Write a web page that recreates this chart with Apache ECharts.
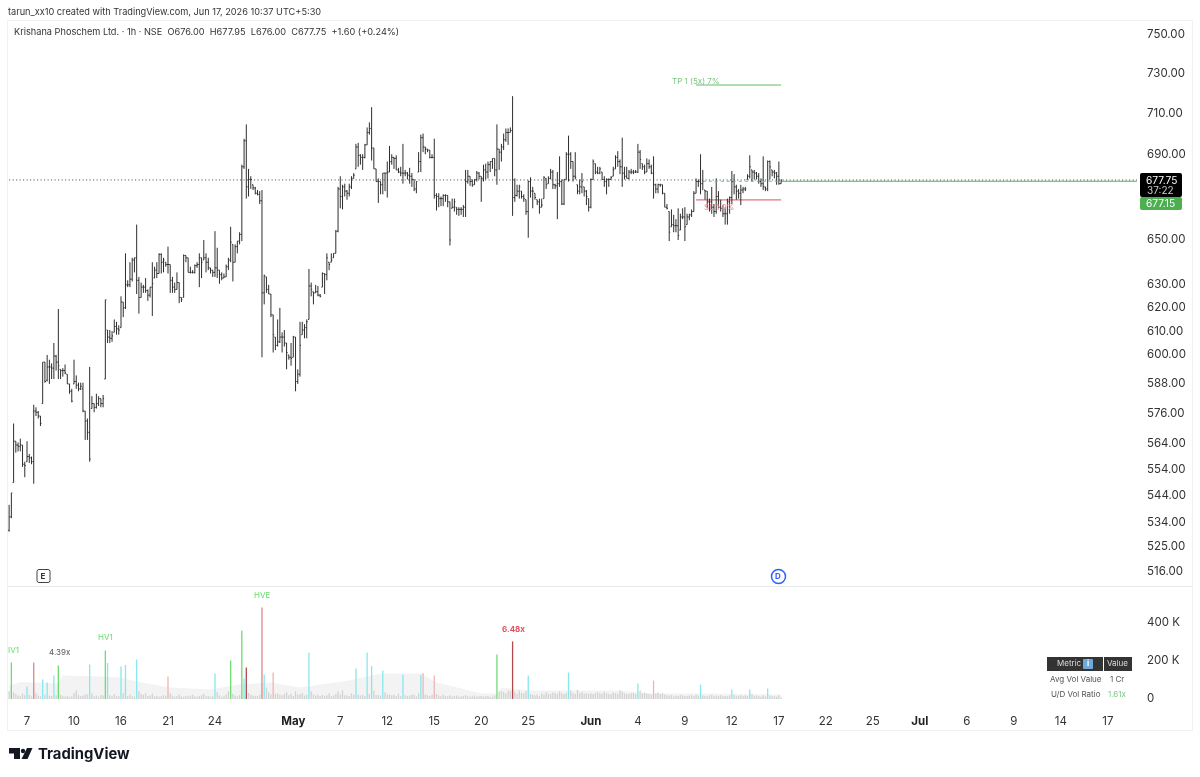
<!DOCTYPE html>
<html><head><meta charset="utf-8">
<style>html,body{margin:0;padding:0;background:#fff}#c{width:1200px;height:777px}</style>
<script src="https://cdn.jsdelivr.net/npm/echarts@6/dist/echarts.min.js"></script>
</head><body><div id="c"></div>
<script>
const opens=[531,536,549,565,563.5,563,563.5,556,557,559,
558.5,557,577,576.5,575,580,597,589.5,595,595,
594.5,599.5,597,594,593.5,593.5,592,588,585,588,
589,587.5,586,586,577,573,568.5,578,580,578.5,
580,582,580,590,610.5,607.5,607,609.5,612,611,
611.5,622.5,620,630,630,632.5,641,642,632,624.5,
629,629,627.5,625.5,629,633,636.5,635,643.5,640,
640,639,639,632,629,628,631,624.5,624.5,643,
642,635.5,635.5,635.5,638.5,639,642,641,642,640,
637.5,636.5,635.5,637.5,636.5,634.5,633,633.5,638,641,
648,640,647,649.5,652.5,684,696.5,674.5,678,675.5,
674,671.5,671,668,626.5,633.5,628,626,617,607.5,
604,605.5,607.5,607.5,605,600,599,599,607.5,589,
592,608.5,610.5,611.5,615,629.5,627,626.5,627,625.5,
629,635,634.5,640,640,642,644,654,673.5,670,
674.5,672.5,671.5,674.5,678.5,683,693.5,689.5,688.5,688.5,
694.5,700.5,702.5,693,683,677,677,675.5,681,681,
681.5,686.5,688.5,688,682.5,681.5,681,681,681,680,
679.5,678,673.5,681.5,686.5,698,693.5,692.5,692,688.5,
688.5,670.5,670,669,669,670.5,670.5,667.5,664.5,665,
665,664,664,664,665,677,679.5,677,675.5,678,
681,679.5,678.5,682.5,681.5,685,686.5,688,682.5,692.5,
691,693.5,697,700.5,700.5,701.5,669.5,670.5,672.5,672.5,
670,668.5,663,677,672.5,671.5,668.5,667.5,665,669,
678.5,676,678.5,681.5,675.5,675,676,677,666.5,678,
690,690,686.5,679.5,675.5,672.5,674.5,674.5,672.5,669,
665,678,685.5,681.5,681,681.5,678,677,678,678,
679.5,683,688.5,686.5,684,681,679.5,678.5,681.5,681.5,
681.5,681.5,691,685.5,684,681.5,685.5,684,681,675.5,
673.5,675.5,675.5,671.5,665,663,656,657,656.5,656.5,
654.5,660.5,660.5,657,660.5,661.5,663,671.5,677,677,
676,673,672.5,667.5,667.5,665,663,670,665,664.5,
662,662,667.5,669.5,677,674.5,672.5,671.5,673,673.5,
678,679.5,682.5,681.5,681,679.5,677,676,674.5,673.5,
686.5,682.5,681.5,681,679.5,676];
const highs=[540.5,545,572,565,564.5,566,563.5,557,565,560,
559,579.5,578.5,577,575,597,597,600,598,596.5,
605,600,619.5,594,594.5,596,592,588,586,598,
591.5,588.5,588.5,588.5,577,574,595,583,580,584,
583,582,583.5,623.5,610.5,610.5,610,615,614,612.5,
625,622.5,644,632,640,642,642,657,633.5,631,
630,633,628,629,640,638,640,644,644,642,
640,647,639,633.5,631,635.5,631,624.5,643.5,643,
642,638,636.5,639,640,644,642,650,644,642,
637.5,636.5,654,646.5,636.5,635.5,635,639,642,656,
648,648,649.5,653.5,685,697.5,704.5,683,679.5,675.5,
674.5,673,672.5,673,634.5,633.5,630,626,617,607.5,
615,620,609.5,610.5,605,600,605,608,607.5,594,
614,614,613,615,637,631,627,630,629.5,626,
635.5,635,644,640,644,644,654.5,674.5,679.5,675.5,
676,673,676,679.5,681,695,695.5,690,690,695,
703,705.5,713,693,683,678.5,677,681,681,686.5,
694,690,688.5,689.5,683.5,684,695,682.5,681.5,683.5,
681,678,677,691,699.5,700,693.5,692.5,692,690,
697.5,671.5,671.5,670,671,671,670.5,667.5,669,669,
665,665,665,666,682.5,682.5,679.5,678,678,682,
681.5,679.5,685,685.5,686.5,686.5,688,688,704.5,692.5,
695,700,702.5,702.5,703,718.5,678.5,675.5,675.5,672.5,
671,668.5,677.5,679,674.5,671.5,668.5,669,669,679.5,
678.5,679.5,683,682.5,676,681.5,689,678,678,691,
699,691,686.5,691,675.5,678,681,674.5,673,669,
678.5,687.5,685.5,684,684,681.5,679.5,678.5,678.5,679.5,
684,689.5,691.5,687.5,698,684,684,682.5,683,682.5,
682.5,695,692,685.5,685,688,687.5,685,689,676,
676,676,675.5,671.5,666.5,663,664,661.5,659.5,664.5,
662,664.5,665,662,662,664,672.5,678.5,678,690,
682.5,673,672.5,669,674.5,666.5,678.5,672.5,668.5,666,
665,669,670,682,680.5,675.5,673.5,675.5,674.5,674.5,
680.5,689.5,682.5,682.5,681.5,681,678.5,689,674.5,687,
687,682.5,682.5,681.5,686.5,677.95];
const lows=[530.5,535.5,549,560.5,561,561,555,551,557,556.5,
556,548.5,575,574,571,580,588.5,589,588,590,
590,593.5,590,590,591,592,588,584,580.5,588,
586,585,585.5,576.5,565.5,565.5,557,578,576.5,578,
579,578.5,578.5,590,605,605,605.5,609.5,608.5,608.5,
611.5,616,619.5,629,629,631.5,635.5,626,617.5,624.5,
626.5,626.5,623,624.5,616.5,633,633,635,635,635.5,
638,635,626.5,626.5,626.5,628,622,622.5,624.5,640,
635.5,635,635,635,637.5,629,633,641,635.5,636.5,
635,633.5,633.5,633,630.5,632,633,633.5,636.5,640,
631.5,640,644,648,649.5,683,669,670,673.5,673,
671,670.5,666.5,599,621.5,626.5,626,616,601,602,
603.5,605,601,603.5,594,598,595.5,599,585,588,
591,608.5,607,607,615,625,621.5,626.5,625,624.5,
629,626,632,636.5,640,642,644,653.5,664.5,664,
670,668.5,670,673.5,678.5,683,684,685,682.5,688,
694.5,699.5,687,683,677,667,671,671,672.5,669.5,
681.5,685,683,682.5,681,679.5,676,679.5,678,676,
674.5,672.5,671.5,681.5,681.5,691,690,691,688,688,
669,663.5,665,665.5,665.5,667.5,665,647.5,664.5,663,
661.5,661,661.5,660.5,660.5,676,675,674.5,675.5,677,
678,667.5,677,678,678.5,681.5,683,679.5,675.5,682.5,
686.5,692,696,694.5,700.5,661,667.5,670,669,669,
667.5,661.5,651,669.5,664.5,668.5,666,662,665,669,
673.5,676,678,673.5,673.5,659.5,674.5,666,666,678,
677,683,677,678,671,671,671.5,670,666,663,
664.5,678,680.5,680.5,680.5,678,674.5,671,674.5,678,
679.5,683,684,680.5,674.5,678,678.5,678,680.5,680.5,
681,681,683,682.5,680.5,681.5,683,680.5,669,671.5,
671.5,674.5,671,665,664,649.5,656,653.5,653.5,650,
654.5,659.5,649.5,657,659,660.5,663,671.5,674.5,671,
673,668.5,664.5,663,662,660.5,662,664.5,663,660.5,
657,657,662,666.5,671,668.5,669,666,671.5,672.5,
678,678.5,677,678,678,676,674.5,673,672.5,672.5,
678,679.5,678.5,675.5,675.5,676];
const closes=[536,545,565,563.5,563,563.5,556,555.5,559,558.5,
557,577,576.5,575,572,597,589,595,595,594.5,
599.5,597,595.5,593.5,593.5,592.5,588,585,581,589,
587.5,586,587,577,573,568.5,558,580,578.5,580,
582,580,582,623.5,607.5,607,608,612,611,610.5,
622.5,620,630,630,632.5,641,642,632,624.5,629,
629,627.5,625.5,629,630.5,636.5,635,643.5,640,641,
639,639,632,629,628,631,624.5,623.5,643,642,
635.5,635.5,635.5,638.5,639,642,640,642,640,637.5,
636.5,635.5,637.5,636.5,634.5,633,633.5,638,641,649,
640,647,649.5,652.5,684,696.5,674.5,678,678,674,
671.5,671,668,626.5,634,628,626,617,608.5,604,
605.5,607.5,607.5,605,601,599,598.5,607.5,589,592,
604,610.5,611.5,614,629.5,628,626.5,627,625.5,625,
635,634.5,642,639,641,644,654,673.5,670,674.5,
672.5,671.5,674.5,678.5,680,693.5,689.5,688.5,688.5,694.5,
700.5,702.5,693,683,677,677,675.5,681,681,681.5,
686.5,688.5,688,682.5,681.5,681,681,681,680,679.5,
678,673.5,677,686.5,698,693.5,692.5,692,688.5,688.5,
670.5,670,669,669,670.5,670.5,667.5,650,665,667.5,
664,664,664,665,677,679.5,677,675.5,678,681,
679.5,678.5,682.5,681.5,685,686.5,688,682.5,692.5,691,
693.5,697,700.5,700.5,701.5,669.5,670.5,672.5,674.5,670,
669,663,677,672.5,672.5,669.5,667.5,665,666,679,
675.5,678.5,681.5,675.5,675,676,677,666.5,678,690,
690,686.5,679.5,679,672.5,674.5,677,672.5,670,665,
678,686.5,681.5,681,683,678,677,678,678,679,
682.5,688.5,686.5,684,681,679.5,678.5,681.5,681.5,681.5,
681.5,691,687.5,684,681.5,685.5,684,681,675.5,673.5,
675.5,675.5,671.5,665,664.5,653.5,657,656.5,656.5,652,
660.5,660.5,656,660.5,661.5,663,671.5,677,677,676,
677,672.5,667.5,667.5,665,663,670,665,664.5,662,
662,667.5,669.5,677,674.5,672.5,671.5,673,673.5,673.5,
679.5,684,681.5,681,679.5,677,676,674.5,673.5,686.5,
684,681.5,681,679.5,676,677.75];
const volumesK=[40,192,35,25,18,14,28,20,66,22,
14,192,30,18,14,103,24,87,18,16,
124,20,176,22,14,12,16,12,14,30,
45,20,14,18,22,24,182,30,14,18,
12,22,18,255,189,20,14,25,16,14,
171,30,179,16,22,14,12,208,40,26,
22,30,16,18,28,14,16,12,14,20,
16,118,30,18,12,16,22,14,12,16,
14,18,22,14,12,16,20,26,14,16,
12,14,134,35,18,12,14,22,40,203,
28,18,14,20,360,108,166,32,22,18,
14,16,22,482,129,60,35,24,139,28,
30,22,18,26,35,20,28,16,40,24,
26,30,18,22,245,40,24,18,22,16,
22,16,20,30,14,18,26,40,24,45,
20,18,16,30,22,160,24,18,22,16,
245,26,174,45,20,22,18,150,35,24,
24,18,22,16,28,14,129,20,16,18,
22,24,14,30,126,137,24,20,16,22,
124,26,18,14,22,16,14,20,12,16,
18,12,14,16,20,14,12,14,18,12,
14,16,12,14,16,10,12,18,234,38,
42,36,30,45,40,303,38,28,44,32,
30,40,124,26,22,18,24,16,30,22,
36,28,26,34,30,28,40,30,26,32,
139,44,30,26,48,30,36,28,30,26,
30,26,32,36,30,28,38,30,26,24,
34,30,28,46,38,30,26,28,30,32,
26,82,44,30,34,28,26,24,97,30,
36,26,30,24,20,18,20,14,18,16,
22,18,16,14,18,20,16,22,18,76,
18,16,14,18,22,14,18,16,20,14,
16,14,18,50,22,14,16,20,14,18,
16,50,26,14,18,16,12,20,14,55,
18,14,16,12,20,8];
const greenVolBars=[1,22,43,99,104,218];
const redVolBars=[11,113];
const darkRedVolBars=[106,225];
const faintRedVolBars=[71,118,185,190,288];
const cyanVolBars=[8,15,17,20,36,44,50,52,57,92,105,114,134,155,160,162,167,176,184,232,250,281,309,323,331,339];
const avgVolIdx=[0,5,22,24,41,50,59,72,90,103,117,130,152,166,184,191,202,211,218,220,233,246,273,287,309,345];
const avgVolK=[71,89,82,124,118,113,87,60,50,76,87,60,97,134,134,87,55,29,29,60,45,45,45,29,29,24];
const slotCount=505;
const dateIdx=[8,29,50,71,92,127,148,169,190,211,232,260,281,302,323,344,365,386,407,428,449,470,491];
const dateText=['7','10','16','21','24','May','7','12','15','20','25','Jun','4','9','12','17','22','25','Jul','6','9','14','17'];
const priceTicks=[750,730,710,690,650,630,620,610,600,588,576,564,554,544,534,525,516];
const volTicks=[0,200000,400000];
const lastPrice=677.75, midPrice=677.15, tpPrice=724.1, slPrice=668.4;
const planFrom=307, planTo=345, midFrom=310;

const cats=Array.from({length:slotCount},(_,i)=>String(i));
const dateMap={};dateIdx.forEach((d,i)=>dateMap[d]=dateText[i]);
const ohlc=closes.map((c,i)=>[i,opens[i],highs[i],lows[i],c]);
const colorOf=i=>greenVolBars.includes(i)?'#6fdc72':redVolBars.includes(i)?'#e08585':darkRedVolBars.includes(i)?'#b5484f':faintRedVolBars.includes(i)?'#eeb4b4':cyanVolBars.includes(i)?'#86e8ef':'#d2d2d2';
const font='Inter, Roboto, sans-serif';
const chart=echarts.init(document.getElementById('c'),null,{renderer:'canvas'});
const T=(text,x,y,fs,fill,extra)=>({type:'text',x,y,z:50,silent:true,style:Object.assign({text,fontSize:fs,fill,fontFamily:font,verticalAlign:'middle'},extra||{})});
const R=(x,y,w,h,fill,r)=>({type:'rect',z:49,silent:true,shape:{x,y,width:w,height:h,r:r||0},style:{fill}});
const Ln=(x1,y1,x2,y2,c)=>({type:'line',z:1,silent:true,shape:{x1,y1,x2,y2},style:{stroke:c,lineWidth:1}});
chart.setOption({
 animation:false,
 backgroundColor:'#fff',
 grid:[{left:8,right:62,top:21,height:565},{left:8,right:62,top:587,height:119}],
 xAxis:[
  {type:'category',gridIndex:0,data:cats,axisLine:{show:false},axisTick:{show:false},axisLabel:{show:false},splitLine:{show:false}},
  {type:'category',gridIndex:1,data:cats,axisLine:{show:false},axisTick:{show:false},splitLine:{show:false},
   axisLabel:{interval:i=>dateMap[i]!==undefined,margin:10,fontSize:11.5,color:'#333',fontFamily:font,
    formatter:(v,i)=>{const t=dateMap[i];return /[A-Z]/.test(t||'')?'{b|'+t+'}':t;},
    rich:{b:{fontWeight:'bold',fontSize:11.5,color:'#222',fontFamily:font}}}}
 ],
 yAxis:[
  {type:'log',logBase:10,gridIndex:0,position:'right',min:510.8,max:757.1,axisLine:{show:false},axisTick:{show:false},splitLine:{show:false},minorTick:{show:false},
   axisLabel:{customValues:priceTicks,margin:9,fontSize:11.5,color:'#333',fontFamily:font,formatter:v=>Number(v).toFixed(2)}},
  {type:'value',gridIndex:1,position:'right',min:-37000,max:589500,axisLine:{show:false},axisTick:{show:false},splitLine:{show:false},
   axisLabel:{customValues:volTicks,margin:9,fontSize:11.5,color:'#333',fontFamily:font,formatter:v=>v===0?'0':(v/1000)+' K'}}
 ],
 series:[
  {type:'custom',name:'OHLC',xAxisIndex:0,yAxisIndex:0,data:ohlc,encode:{x:0,y:[1,2,3,4]},clip:false,silent:true,z:5,
   renderItem:(p,api)=>{
    const i=api.value(0),hi=api.coord([i,api.value(2)]),lo=api.coord([i,api.value(3)]),op=api.coord([i,api.value(1)]),cl=api.coord([i,api.value(4)]);
    const s={stroke:'#2e2e2e',lineWidth:1,fill:null};
    return {type:'group',children:[
     {type:'line',shape:{x1:hi[0],y1:hi[1],x2:lo[0],y2:lo[1]},style:s},
     {type:'line',shape:{x1:op[0]-1,y1:op[1],x2:op[0],y2:op[1]},style:s},
     {type:'line',shape:{x1:cl[0],y1:cl[1],x2:cl[0]+1,y2:cl[1]},style:s}]};
   }},
  {type:'line',name:'Last',xAxisIndex:0,yAxisIndex:0,data:[[0,lastPrice],[slotCount-1,lastPrice]],symbol:'none',silent:true,z:3,lineStyle:{color:'#444',width:1,type:[1,2.5]}},
  {type:'line',name:'Plan',xAxisIndex:0,yAxisIndex:0,data:[[planTo,midPrice],[slotCount-1,midPrice]],symbol:'none',silent:true,z:2,lineStyle:{color:'#4caf50',width:1}},
  {type:'line',name:'Mid',xAxisIndex:0,yAxisIndex:0,data:[[midFrom,midPrice],[planTo,midPrice]],symbol:'none',silent:true,z:6,lineStyle:{color:'#4fc3b8',width:1,type:[3,3]}},
  {type:'line',name:'TP',xAxisIndex:0,yAxisIndex:0,data:[[planFrom,tpPrice],[planTo,tpPrice]],symbol:'none',silent:true,z:4,lineStyle:{color:'#66bb6a',width:1}},
  {type:'line',name:'SL',xAxisIndex:0,yAxisIndex:0,data:[[planFrom,slPrice],[planTo,slPrice]],symbol:'none',silent:true,z:4,lineStyle:{color:'#e0505f',width:1}},
  {type:'line',name:'Avg',xAxisIndex:1,yAxisIndex:1,data:avgVolIdx.map((d,i)=>[d,avgVolK[i]*1000]),symbol:'none',silent:true,z:1,lineStyle:{width:0},itemStyle:{color:'#f3f3f3'},areaStyle:{color:'#f3f3f3',opacity:1}},
  {type:'bar',name:'Volume',xAxisIndex:1,yAxisIndex:1,barWidth:1.3,silent:true,z:3,data:volumesK.map((v,i)=>({value:v*1000,itemStyle:{color:colorOf(i)}}))}
 ],
 graphic:[
  Ln(7.5,20.5,1192.5,20.5,'#f0f1f3'),Ln(7.5,20.5,7.5,730.5,'#f0f1f3'),Ln(1192.5,20.5,1192.5,730.5,'#f0f1f3'),Ln(7.5,730.5,1192.5,730.5,'#f0f1f3'),Ln(7.5,586.5,1192.5,586.5,'#e6e8ec'),
  T('tarun_xx10 created with TradingView.com, Jun 17, 2026 10:37 UTC+5:30',8,12,9.2,'#333'),
  T('Krishana Phoschem Ltd. · 1h · NSE  O676.00  H677.95  L676.00  C677.75  +1.60 (+0.24%)',14,32.5,9.2,'#333'),
  T('TP 1 (5x) 7%',672,81.5,8,'#7cc583'),
  T('SL 1 0%',704,207.5,8,'#ef8a95'),
  T('IV1',8,650.5,8,'#66dd6a'),T('HV1',98,638,8,'#66dd6a'),T('HVE',254,595.5,8,'#66dd6a'),
  T('4.39x',49,652.5,8,'#555'),T('6.48x',502,630,8,'#e0505f',{fontWeight:'bold'}),
  {type:'rect',z:40,silent:true,shape:{x:37,y:569.5,width:13,height:13,r:2},style:{fill:'#fff',stroke:'#444',lineWidth:1}},
  T('E',40.5,576.5,8,'#333',{fontWeight:'bold'}),
  {type:'circle',z:40,silent:true,shape:{cx:778.5,cy:576.5,r:7},style:{fill:'#fff',stroke:'#2962ff',lineWidth:1.5}},
  T('D',775,576.5,8,'#2962ff',{fontWeight:'bold'}),
  R(1140,173,42,24,'#000',2),R(1140,197,42,13,'#4caf50',2),
  T('677.75',1146,180.5,10.2,'#fff'),T('37:22',1147,191,10,'#ccc'),T('677.15',1146,203.5,10.2,'#fff'),
  R(1047,657,56,14,'#333'),R(1104,657,28,14,'#333'),
  T('Metric',1057,664,8,'#ddd'),R(1083,659,10,10,'#6fa8dc',1),T('i',1087,664,8,'#fff',{fontWeight:'bold'}),T('Value',1107,664,8,'#ddd'),
  T('Avg Vol Value',1050,679.5,8,'#555'),T('1 Cr',1110,679.5,8,'#555'),
  T('U/D Vol Ratio',1051,694.5,8,'#555'),T('1.61x',1108,694.5,8,'#7fc98a'),
  {type:'polygon',z:40,silent:true,shape:{points:[[9,748],[20,748],[20,759],[14,759],[14,753.5],[9,753.5]]},style:{fill:'#131722'}},
  {type:'circle',z:40,silent:true,shape:{cx:23,cy:751,r:2.2},style:{fill:'#131722'}},
  {type:'polygon',z:40,silent:true,shape:{points:[[27,748],[32.5,748],[27.5,759],[21.5,759]]},style:{fill:'#131722'}},
  T('TradingView',38,754.5,14.8,'#131722',{fontWeight:'bold'})
 ]
});
</script></body></html>
